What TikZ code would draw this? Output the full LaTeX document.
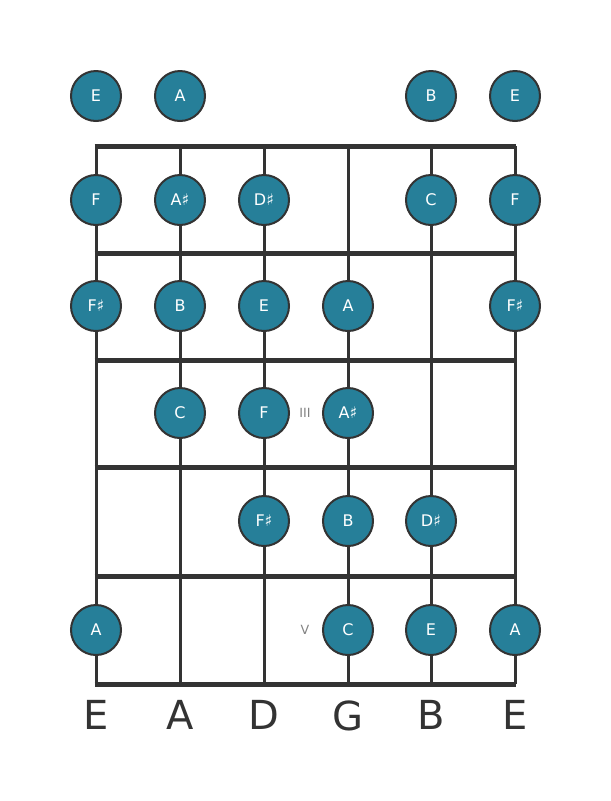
\documentclass[tikz,border=0pt]{standalone}
\usepackage{fontspec}
\setmainfont{DejaVu Sans}
\usetikzlibrary{positioning}
\definecolor{noteteal}{RGB}{38,127,153}
\definecolor{fretdark}{RGB}{51,51,51}
\definecolor{markgray}{RGB}{130,130,130}

\begin{document}
\begin{tikzpicture}[x=0.75pt,y=-0.75pt,
    note/.style={circle,fill=noteteal,draw=fretdark,line width=1.5pt,minimum size=37.5pt,inner sep=0pt,text=white,font=\fontsize{12}{12}\selectfont},
    fretline/.style={fretdark,line width=3.75pt},
    stringline/.style={fretdark,line width=2.25pt},
    stringname/.style={text=fretdark,font=\fontsize{30}{30}\selectfont},
    fretmark/.style={text=markgray,font=\fontsize{9.5}{9.5}\selectfont}]
  \useasboundingbox (0,0) rectangle (611,801);
  % strings
  \foreach \s/\x in {1/96,2/180,3/264,4/348,5/431,6/515} {
    \coordinate (top\s) at (\x,146);
    \coordinate (bot\s) at (\x,684);
    \draw[stringline] (top\s) -- (bot\s);
  }
  % nut and frets
  \foreach \f/\y in {0/146,1/253,2/360,3/467,4/576,5/684} {
    \coordinate (fl\f) at (96,\y);
    \coordinate (fr\f) at (515,\y);
    \draw[fretline] ([xshift=-1.1pt]fl\f) -- ([xshift=1.1pt]fr\f);
  }
  % fret markers
  \node[fretmark] (mkIII) at (305,413) {III};
  \node[fretmark] (mkV) at (305,630) {V};
  % notes
  \foreach \n/\x/\y/\t in {
      o1/96/96/E, o2/180/96/A, o5/431/96/B, o6/515/96/E,
      a1/96/200/F, a2/180/200/A♯, a3/264/200/D♯, a5/431/200/C, a6/515/200/F,
      b1/96/306/F♯, b2/180/306/B, b3/264/306/E, b4/348/306/A, b6/515/306/F♯,
      c2/180/413/C, c3/264/413/F, c4/348/413/A♯,
      d3/264/521/F♯, d4/348/521/B, d5/431/521/D♯,
      e1/96/630/A, e4/348/630/C, e5/431/630/E, e6/515/630/A}
    \node[note] (\n) at (\x,\y) {\t};
  % string names
  \foreach \s/\t in {1/E,2/A,3/D,4/G,5/B,6/E}
    \node[stringname,below=9pt of bot\s] (name\s) {\t};
\end{tikzpicture}
\end{document}
